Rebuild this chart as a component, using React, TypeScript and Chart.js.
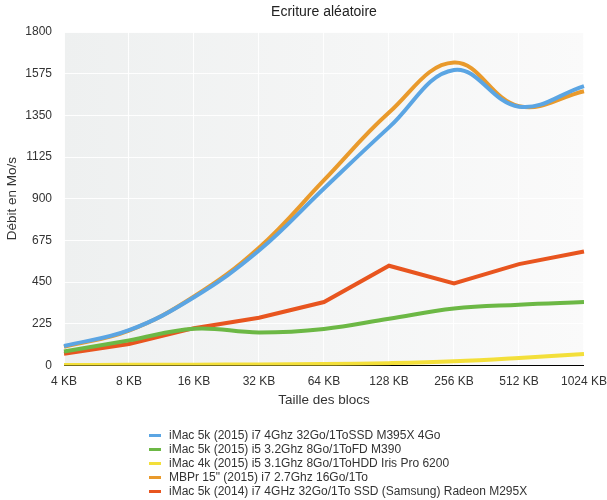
import React, { useEffect, useRef } from 'react';
import { Chart, registerables } from 'chart.js';

Chart.register(...registerables);

const chartTitle = 'Ecriture aléatoire';
const xTitle = 'Taille des blocs';
const yTitle = 'Débit en Mo/s';

const categories = ['4 KB', '8 KB', '16 KB', '32 KB', '64 KB', '128 KB', '256 KB', '512 KB', '1024 KB'];
const yMin = 0;
const yMax = 1800;
const yStep = 225;

const seriesNames = [
  'iMac 5k (2015) i7 4Ghz 32Go/1ToSSD M395X 4Go',
  'iMac 5k (2015) i5 3.2Ghz 8Go/1ToFD M390',
  'iMac 4k (2015) i5 3.1Ghz 8Go/1ToHDD Iris Pro 6200',
  'MBPr 15" (2015) i7 2.7Ghz 16Go/1To',
  'iMac 5k (2014) i7 4GHz 32Go/1To SSD (Samsung) Radeon M295X',
];
const seriesColors = ['#5ba5e3', '#6cb845', '#f3df3a', '#e99a2c', '#e8551f'];
const seriesTension = [0.4, 0.4, 0.4, 0.4, 0];

const imac5k2015i7 = [105, 190, 368, 620, 955, 1285, 1595, 1397, 1508];
const imac5k2015i5 = [75, 135, 198, 178, 197, 252, 307, 328, 342];
const imac4k2015 = [2, 3, 4, 5, 7, 12, 22, 40, 62];
const mbpr2015 = [100, 188, 372, 635, 1000, 1365, 1635, 1400, 1480];
const imac5k2014 = [63, 115, 201, 257, 342, 538, 442, 547, 615];

const seriesValues = [imac5k2015i7, imac5k2015i5, imac4k2015, mbpr2015, imac5k2014];

const FONT = "'Liberation Sans', Arial, Helvetica, sans-serif";

export default function App() {
  const ref = useRef<HTMLCanvasElement>(null);

  useEffect(() => {
    if (!ref.current) return;
    const bgPlugin = {
      id: 'bgAndTitle',
      beforeDraw(chart: any) {
        const { ctx, chartArea: a } = chart;
        const g = ctx.createLinearGradient(a.left, 0, a.right, 0);
        g.addColorStop(0, '#eef0f0');
        g.addColorStop(1, '#fafafa');
        ctx.save();
        ctx.fillStyle = g;
        ctx.fillRect(a.left, a.top, a.right - a.left, a.bottom - a.top);
        ctx.restore();
      },
      afterDraw(chart: any) {
        const { ctx, chartArea: a } = chart;
        ctx.save();
        ctx.font = `14px ${FONT}`;
        ctx.fillStyle = '#222';
        ctx.textAlign = 'center';
        ctx.textBaseline = 'middle';
        ctx.fillText(chartTitle, (a.left + a.right) / 2, 12);
        ctx.restore();
      },
    };

    const chart = new Chart(ref.current, {
      type: 'line',
      data: {
        labels: categories,
        datasets: seriesNames.map((name, i) => ({
          label: name,
          data: seriesValues[i],
          borderColor: seriesColors[i],
          backgroundColor: seriesColors[i],
          borderWidth: 4,
          tension: seriesTension[i],
          pointRadius: 0,
          fill: false,
        })),
      },
      options: {
        responsive: false,
        animation: false,
        layout: { padding: { top: 32, left: 0, right: 0, bottom: 92 } },
        plugins: {
          legend: { display: false },
          tooltip: { enabled: false },
          title: { display: false },
        },
        scales: {
          x: {
            offset: false,
            grid: { color: 'rgba(255,255,255,0.9)', drawTicks: false },
            border: { display: true, color: '#000', width: 1 },
            ticks: { padding: 9, color: '#333', font: { size: 12, family: FONT }, maxRotation: 0, autoSkip: false },
            title: { display: true, text: xTitle, color: '#333', padding: { top: -6, bottom: 0 }, font: { size: 13.5, family: FONT } },
            afterFit: (s: any) => {
              s.paddingRight = Math.max(0, s.paddingRight - 9);
            },
          },
          y: {
            min: yMin,
            max: yMax,
            grid: { color: 'rgba(255,255,255,0.9)', drawTicks: false },
            border: { display: false },
            ticks: {
              stepSize: yStep,
              padding: 12,
              color: '#333',
              font: { size: 12, family: FONT },
              callback: (v: any) => String(v),
            },
            title: { display: true, text: yTitle, color: '#333', font: { size: 13.5, family: FONT } },
            afterFit: (s: any) => {
              s.width = 64;
            },
          },
        },
      },
      plugins: [bgPlugin],
    });
    return () => chart.destroy();
  }, []);

  return (
    <div style={{ position: 'fixed', left: 0, top: 0, width: 607, height: 500, background: '#fff' }}>
      <canvas ref={ref} width={607} height={500} style={{ display: 'block' }} />
      <div style={{ position: 'absolute', left: 149, top: 428, fontFamily: FONT, fontSize: 12, color: '#333' }}>
        {seriesNames.map((name, i) => (
          <div key={name} style={{ height: 14, lineHeight: '14px', display: 'flex', alignItems: 'center', whiteSpace: 'nowrap' }}>
            <span style={{ display: 'inline-block', width: 12, height: 3, background: seriesColors[i], marginRight: 8 }} />
            <span>{name}</span>
          </div>
        ))}
      </div>
    </div>
  );
}
